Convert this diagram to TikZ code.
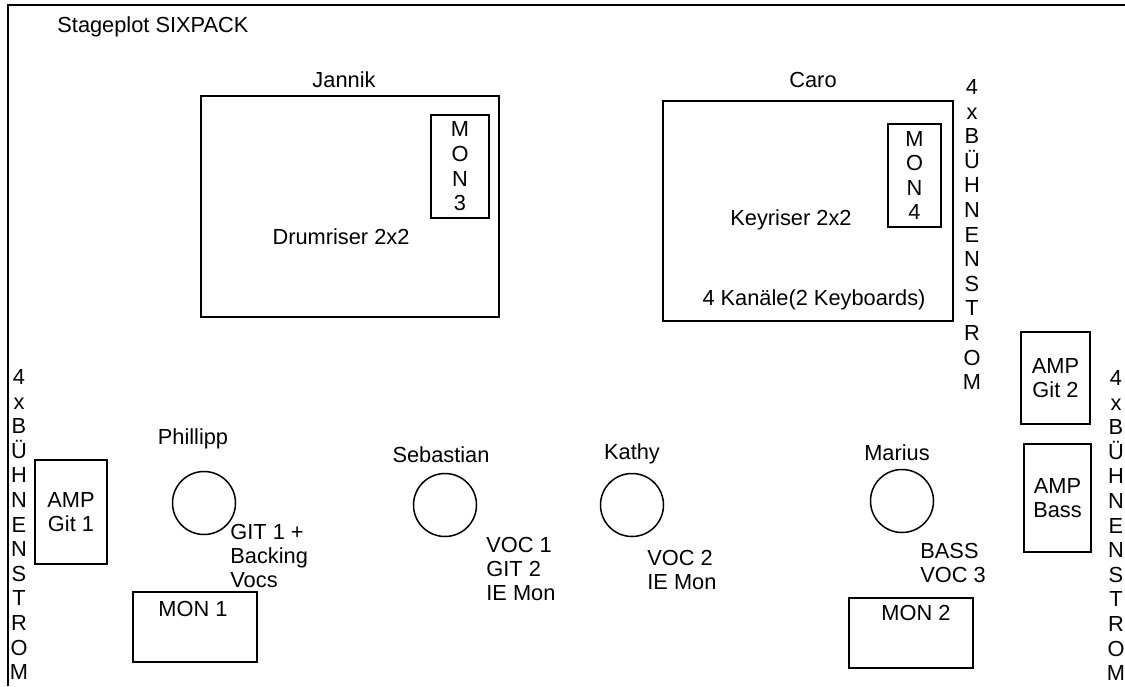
\documentclass[tikz,border=0pt]{standalone}
\usepackage{fontspec}
\setmainfont{Liberation Sans}
\usetikzlibrary{positioning}
\newcommand{\strom}{4\\x\\B\\Ü\\H\\N\\E\\N\\S\\T\\R\\O\\M}

\begin{document}
\begin{tikzpicture}[x=0.5pt,y=-0.5pt,
		every node/.style={font=\fontsize{10.9}{12}\selectfont, inner sep=0pt},
		lbl/.style={text height=7.8pt, text depth=0pt},
		box/.style={draw, line width=0.75pt, align=center},
		stack/.style={align=center, font=\fontsize{10.9}{12.3}\selectfont},
		lines/.style={align=left, anchor=north west},
		spot/.style={draw, circle, line width=0.75pt, minimum size=31.5pt}]
		\useasboundingbox (0,0) rectangle (1125,686);
		
		% stage frame
		\draw[line width=1pt] (8,686) -- (8,5) -- (1125,5);
		\node[lbl, anchor=west] (title) at (57,25) {Stageplot SIXPACK};
		
		% risers at the back
		\node[box, minimum width=149pt, minimum height=110.5pt] (drum) at (350,206.5) {};
		\node[box, stack, minimum width=29pt, minimum height=51.5pt] (mon3) at (460,166.5) {M\\O\\N\\3};
		\node[lbl] (jannik) at (344,80) {Jannik};
		\node[lbl] (drumtxt) at (341,237) {Drumriser 2x2};
		
		\node[box, minimum width=145pt, minimum height=110pt] (keys) at (808,211) {};
		\node[box, stack, minimum width=26.5pt, minimum height=51.5pt] (mon4) at (914.5,175.5) {M\\O\\N\\4};
		\node[lbl] (caro) at (813,80) {Caro};
		\node[lbl] (keystxt) at (791,218) {Keyriser 2x2};
		\node[lbl] (kanaele) at (814,298) {4 Kanäle(2 Keyboards)};
		
		% power
		\node[stack, anchor=north] (stromK) at (972,79) {\strom};
		\node[stack, anchor=north] (stromL) at (19,369) {\strom};
		\node[stack, anchor=north] (stromR) at (1116,370) {\strom};
		
		% amps
		\node[box, minimum width=36pt, minimum height=52pt] (ampg1) at (71,512) {AMP\\Git 1};
		\node[box, minimum width=34.5pt, minimum height=46pt] (ampg2) at (1055.5,378) {AMP\\Git 2};
		\node[box, minimum width=33.5pt, minimum height=54pt] (ampb) at (1057.5,498) {AMP\\Bass};
		
		% front line
		\node[spot] (phil) at (204,503) {};
		\node[lbl] (philtxt) at (193,437) {Phillipp};
		\node[lines] (philch) at (230,524) {GIT 1 +\\Backing\\Vocs};
		
		\node[spot] (seb) at (445,505) {};
		\node[lbl] (sebtxt) at (441,455) {Sebastian};
		\node[lines] (sebch) at (486,537) {VOC 1\\GIT 2\\IE Mon};
		
		\node[spot] (kathy) at (632,505) {};
		\node[lbl] (kathytxt) at (632,452) {Kathy};
		\node[lines] (kathych) at (647,550) {VOC 2\\IE Mon};
		
		\node[spot] (marius) at (902,501) {};
		\node[lbl] (mariustxt) at (897,453) {Marius};
		\node[lines] (mariusch) at (920,543) {BASS\\VOC 3};
		
		% wedges
		\node[box, minimum width=62pt, minimum height=35pt] (mon1) at (195,627) {};
		\node[lbl] (mon1txt) at (193,609) {MON 1};
		\node[box, minimum width=62pt, minimum height=35pt] (mon2) at (911,633) {};
		\node[lbl] (mon2txt) at (916,613) {MON 2};
	\end{tikzpicture}
\end{document}
